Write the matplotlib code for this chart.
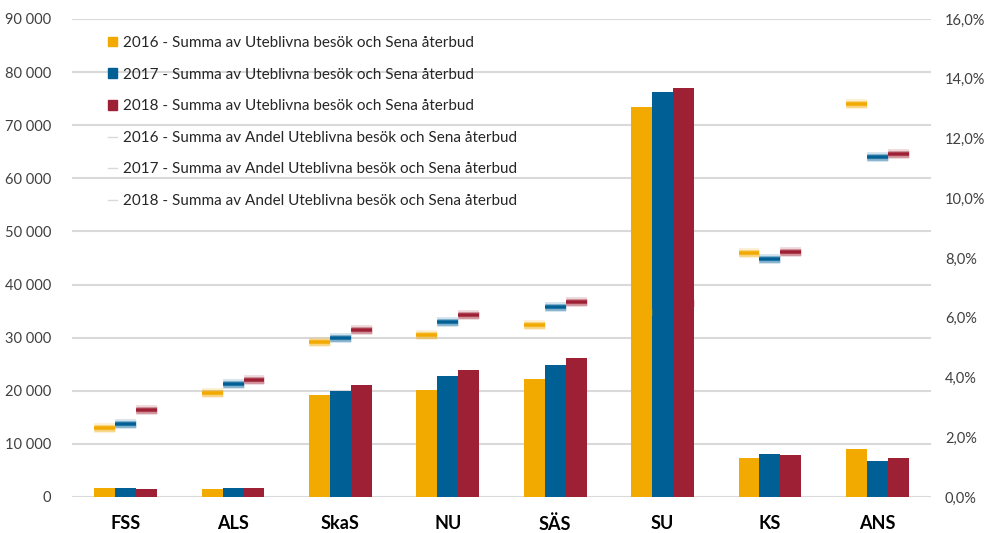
import numpy as np
import matplotlib
matplotlib.use('Agg')
import matplotlib.pyplot as plt
from matplotlib.lines import Line2D
from matplotlib.patches import Patch
from matplotlib.ticker import FuncFormatter

plt.rcParams['font.family'] = ['Lato', 'DejaVu Sans']

categories = ['FSS', 'ALS', 'SkaS', 'NU', 'SÄS', 'SU', 'KS', 'ANS']
years      = ['2016', '2017', '2018']

# Summa av Uteblivna besök och Sena återbud
count_2016 = [1700, 1500, 19200, 20100, 22300, 73400, 7300, 9000]
count_2017 = [1700, 1700, 19900, 22800, 24900, 76200, 8100, 6800]
count_2018 = [1500, 1700, 21100, 24000, 26200, 77000, 8000, 7300]

# Summa av Andel Uteblivna besök och Sena återbud
share_2016 = [0.0232, 0.0349, 0.0520, 0.0542, 0.0576, 0.0619, 0.0816, 0.1316]
share_2017 = [0.0245, 0.0378, 0.0533, 0.0585, 0.0637, 0.0643, 0.0797, 0.1139]
share_2018 = [0.0290, 0.0392, 0.0559, 0.0609, 0.0653, 0.0649, 0.0821, 0.1148]

colors = ['#F2A900', '#006096', '#9E2034']
counts = [count_2016, count_2017, count_2018]
shares = [share_2016, share_2017, share_2018]

fig = plt.figure(figsize=(9.9, 5.33), dpi=100)
ax  = fig.add_axes([72 / 990, 1 - 497 / 533, (931 - 72) / 990, (497 - 19) / 533])
ax2 = ax.twinx()

x  = np.arange(len(categories))
bw = 0.195

for i, (c, col) in enumerate(zip(counts, colors)):
    ax.bar(x + (i - 1) * bw, c, bw, color=col, zorder=2)

# gradient-like dash markers on the secondary axis
for i, (s, col) in enumerate(zip(shares, colors)):
    xs = x + (i - 1) * bw
    for lw, a in [(7, 0.18), (5, 0.35), (3, 0.7), (1.6, 1.0)]:
        ax2.hlines(s, xs - bw / 2, xs + bw / 2, colors=col, lw=lw, alpha=a, zorder=3)

ax.set_xlim(-0.5, len(categories) - 0.5)
ax.set_ylim(0, 90000)
ax.set_yticks(np.arange(0, 90001, 10000))
ax.yaxis.set_major_formatter(FuncFormatter(lambda v, p: f'{int(v):,}'.replace(',', ' ')))
ax.grid(axis='y', color='#d9d9d9', lw=1.5, zorder=0)
ax.set_axisbelow(True)
ax.set_xticks(x)
ax.set_xticklabels(categories, fontweight='bold')

ax2.set_ylim(0, 0.16)
ax2.set_yticks(np.arange(0, 0.1601, 0.02))
ax2.yaxis.set_major_formatter(FuncFormatter(lambda v, p: f'{v * 100:.1f}%'.replace('.', ',')))

for a in (ax, ax2):
    for sp in a.spines.values():
        sp.set_visible(False)
    a.tick_params(length=0)
    a.tick_params(axis='y', labelsize=10.5, colors='#404040')
ax.tick_params(axis='y', pad=15)
ax.tick_params(axis='x', pad=13, labelsize=13, labelcolor='black')
ax2.tick_params(axis='y', pad=10)

handles = [Patch(color=c) for c in colors] + [Line2D([0], [0], color='#d9d9d9', lw=1) for _ in years]
labels  = [f'{y} - Summa av Uteblivna besök och Sena återbud' for y in years] + \
          [f'{y} - Summa av Andel Uteblivna besök och Sena återbud' for y in years]
fig.legend(handles, labels, loc='upper left', bbox_to_anchor=(108 / 990, 1 - 36 / 533),
           frameon=False, fontsize=11, labelspacing=1.15, handlelength=0.6,
           handleheight=0.6, handletextpad=0.35, borderpad=0, borderaxespad=0,
           labelcolor='#262626')

fig.savefig('out.png', dpi=100)
